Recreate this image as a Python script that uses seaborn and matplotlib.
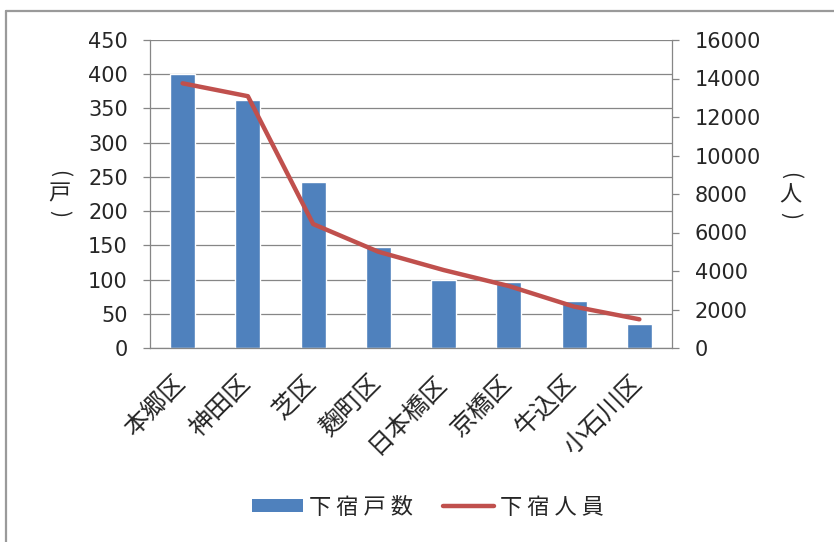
import matplotlib
matplotlib.use("Agg")
import matplotlib.pyplot as plt
import matplotlib.transforms as mtransforms
from matplotlib.lines import Line2D
from matplotlib.patches import Patch
import seaborn as sns
import pandas as pd

# 区別の下宿戸数と下宿人員
districts = ["本郷区", "神田区", "芝区", "麹町区", "日本橋区", "京橋区", "牛込区", "小石川区"]
households = [400, 362, 242, 147, 99, 97, 68, 35]
lodgers = [13750, 13080, 6440, 5000, 4050, 3220, 2150, 1490]

left_ticks = list(range(0, 451, 50))
right_ticks = list(range(0, 16001, 2000))

bar_color = "#4F81BD"
line_color = "#C0504D"
axis_gray = "#868686"

sns.set_style("white")
plt.rcParams["font.family"] = ["DejaVu Sans", "Noto Sans CJK JP"]
cjk = ["Noto Sans CJK JP", "DejaVu Sans"]

df = pd.DataFrame({"district": districts, "households": households,
                   "lodgers": lodgers, "pos": range(len(districts))})

fig = plt.figure(figsize=(8.34, 5.42), dpi=100)
ax = fig.add_axes([150 / 834, 1 - 348 / 542, 522 / 834, 308 / 542])

sns.barplot(data=df, x="district", y="households", color=bar_color,
            width=0.38, saturation=1, ax=ax)
ax.set_xlim(-0.5, len(districts) - 0.5)
ax.set_ylim(0, 450)
ax.set_yticks(left_ticks)
ax.set_axisbelow(True)
ax.grid(axis="y", color=axis_gray, linewidth=0.9)
ax.set_xlabel("")
ax.set_ylabel("")

for side in ("top", "right"):
    ax.spines[side].set_visible(False)
for side in ("left", "bottom"):
    ax.spines[side].set_color(axis_gray)
    ax.spines[side].set_linewidth(0.9)

# category boundaries carry the tick marks
ax.set_xticks([i + 0.5 for i in range(-1, len(districts))], minor=True)
ax.tick_params(axis="x", which="minor", length=6.5, width=0.9, color=axis_gray, direction="out")
ax.tick_params(axis="x", which="major", length=0, pad=16)
ax.tick_params(axis="y", length=5, width=0.9, color=axis_gray, labelsize=15, pad=11)
ax.set_xticks(range(len(districts)))
ax.set_xticklabels(districts, rotation=45, ha="right", va="top",
                   rotation_mode="anchor", fontsize=18, family=cjk)
shift = mtransforms.ScaledTranslation(-10 / 100, 0, fig.dpi_scale_trans)
for lab in ax.get_xticklabels():
    lab.set_transform(lab.get_transform() + shift)

ax2 = ax.twinx()
sns.lineplot(data=df, x="pos", y="lodgers", color=line_color, linewidth=3.2,
             ax=ax2, solid_capstyle="round", solid_joinstyle="round")
ax2.set_ylim(0, 16000)
ax2.set_yticks(right_ticks)
ax2.set_xlim(-0.5, len(districts) - 0.5)
ax2.set_ylabel("")
ax2.set_xlabel("")
for side in ("top", "left", "bottom"):
    ax2.spines[side].set_visible(False)
ax2.spines["right"].set_color(axis_gray)
ax2.spines["right"].set_linewidth(0.9)
ax2.tick_params(axis="y", length=5, width=0.9, color=axis_gray, labelsize=15, pad=11.5)


def vertical_title(x_px, y_px, char):
    """Stack a unit title vertically: bracket, character, bracket."""
    x = x_px / 834
    fig.text(x, 1 - (y_px - 20) / 542, "(", rotation=-90, ha="center", va="center",
             fontsize=15, family=cjk)
    fig.text(x, 1 - y_px / 542, char, ha="center", va="center",
             fontsize=16, family=cjk)
    fig.text(x, 1 - (y_px + 20) / 542, ")", rotation=-90, ha="center", va="center",
             fontsize=15, family=cjk)


vertical_title(59, 194, "戸")
vertical_title(790, 195, "人")

handles = [Patch(facecolor=bar_color, edgecolor="none"),
           Line2D([], [], color=line_color, linewidth=3.2, solid_capstyle="round")]
fig.legend(handles, ["下 宿 戸 数", "下 宿 人 員"], loc="center",
           bbox_to_anchor=(428 / 834, 1 - 507 / 542), ncol=2, frameon=False,
           prop={"family": cjk, "size": 16}, handlelength=2.3, handleheight=0.55,
           handletextpad=0.27, columnspacing=1.35)

# chart area border
fig.add_artist(Line2D([6 / 834, 6 / 834], [0, 1 - 11 / 542], transform=fig.transFigure,
                      color="#9a9a9a", linewidth=1.6))
fig.add_artist(Line2D([6 / 834, 1], [1 - 11 / 542, 1 - 11 / 542], transform=fig.transFigure,
                      color="#9a9a9a", linewidth=1.6))

fig.savefig("out.png", dpi=100, facecolor="white")
